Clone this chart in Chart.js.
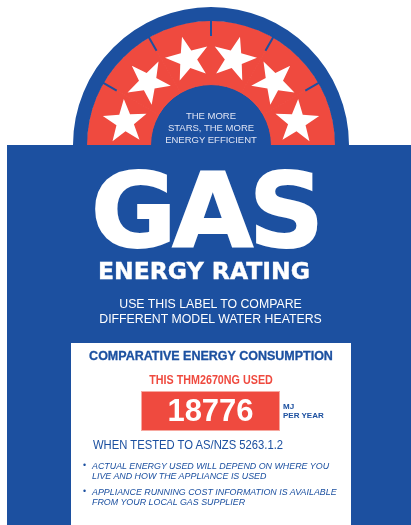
<!DOCTYPE html>
<html>
<head>
<meta charset="utf-8">
<script src="https://cdn.jsdelivr.net/npm/chart.js@4"></script>
<style>
  html, body { margin: 0; padding: 0; background: #fff; }
  #label { position: relative; width: 411px; height: 525px; overflow: hidden; font-family: "Liberation Sans", Arial, sans-serif; }
  #starChart { position: absolute; left: 73px; top: 7px; }
  .panel { position: absolute; left: 7px; top: 145px; width: 404px; height: 380px; background: #1c50a0; }
  .box { position: absolute; left: 71px; top: 343px; width: 280px; height: 182px; background: #fff; }
  .txt { position: absolute; white-space: nowrap; line-height: 1; }
  .heavy { font-family: "DejaVu Sans", sans-serif; font-weight: bold; color: #fff; }
  .blue { color: #1c50a0; }
</style>
</head>
<body>
<div id="label">
  <div class="panel"></div>
  <canvas id="starChart" width="276" height="138"></canvas>

  <div class="txt" style="left:211px; top:109.6px; line-height:12px; font-size:9.5px; color:#dfe4f4; text-align:center; transform:translateX(-50%);">THE MORE<br>STARS, THE MORE<br>ENERGY EFFICIENT</div>

  <div class="txt heavy" style="left:205.5px; top:170.3px; font-size:104px; line-height:0.8; letter-spacing:-4px; -webkit-text-stroke:2px #fff; transform:translateX(-50%);">GAS</div>
  <div class="txt heavy" style="left:204px; top:260.2px; font-size:23.5px; -webkit-text-stroke:0.4px #fff; transform:translateX(-50%);">ENERGY RATING</div>

  <div class="txt" style="left:210.5px; top:297.3px; font-size:12.3px; line-height:15px; color:#fff; text-align:center; transform:translateX(-50%);">USE THIS LABEL TO COMPARE<br>DIFFERENT MODEL WATER HEATERS</div>

  <div class="box"></div>
  <div class="txt blue" style="left:211px; top:350.4px; font-size:12.5px; font-weight:bold; -webkit-text-stroke:0.3px #1c50a0; transform:translateX(-50%);">COMPARATIVE ENERGY CONSUMPTION</div>
  <div class="txt" id="usedLine" style="left:210.5px; top:373.6px; font-size:12.5px; font-weight:bold; color:#ef4a3f; transform:translateX(-50%) scaleX(0.86);"></div>

  <div style="position:absolute; left:142px; top:392px; width:137px; height:38px; background:#ef4a3f; box-shadow:0 0 0 1px #f7a8a0;"></div>
  <div class="txt" id="energyValue" style="left:210.5px; top:395.2px; font-size:31px; font-weight:bold; color:#fff; transform:translateX(-50%);"></div>
  <div class="txt blue" style="left:283px; top:402.1px; font-size:8px; line-height:9px; font-weight:bold;">MJ<br>PER YEAR</div>

  <div class="txt blue" style="left:93px; top:439.4px; font-size:12.5px; transform-origin:0 0; transform:scaleX(0.9);">WHEN TESTED TO AS/NZS 5263.1.2</div>

  <div class="txt blue" style="left:83px; top:460.6px; font-size:8.9px;">&bull;</div>
  <div class="txt blue" style="left:92px; top:460.6px; font-size:8.9px; line-height:10.3px; font-style:italic;">ACTUAL ENERGY USED WILL DEPEND ON WHERE YOU<br>LIVE AND HOW THE APPLIANCE IS USED</div>
  <div class="txt blue" style="left:83px; top:487.2px; font-size:8.9px;">&bull;</div>
  <div class="txt blue" style="left:92px; top:487.2px; font-size:8.9px; line-height:10.3px; font-style:italic;">APPLIANCE RUNNING COST INFORMATION IS AVAILABLE<br>FROM YOUR LOCAL GAS SUPPLIER</div>
</div>

<script>
// Star rating segments of the half dial (one slice per star)
const starLabels = ['1 star', '2 stars', '3 stars', '4 stars', '5 stars', '6 stars'];
const starValues = [1, 1, 1, 1, 1, 1];
// Rings of the dial: outer blue rim, red star band, inner blue disc
const ringNames = ['rim', 'stars', 'centre'];
const ringWeights = [14, 63, 60];
// Label figures
const modelName = 'THM2670NG';
const energyUsed = [18776];

const BLUE = '#1c50a0';
const RED = '#ef4a3f';

// Draws the white stars and the small rim ticks on the red band
const starPlugin = {
  id: 'starPlugin',
  afterDatasetsDraw(chart) {
    const ctx = chart.ctx;
    const meta = chart.getDatasetMeta(1);
    meta.data.forEach(function (arc, i) {
      const p = arc.getProps(['x', 'y', 'startAngle', 'endAngle', 'innerRadius', 'outerRadius']);
      const mid = (p.startAngle + p.endAngle) / 2;
      const r = p.innerRadius + (p.outerRadius - p.innerRadius) * 0.45;

      // tick on each boundary between stars
      if (i > 0) {
        ctx.save();
        ctx.strokeStyle = BLUE;
        ctx.lineWidth = 2;
        ctx.beginPath();
        ctx.moveTo(p.x + Math.cos(p.startAngle) * (p.outerRadius + 1), p.y + Math.sin(p.startAngle) * (p.outerRadius + 1));
        ctx.lineTo(p.x + Math.cos(p.startAngle) * (p.outerRadius - 15), p.y + Math.sin(p.startAngle) * (p.outerRadius - 15));
        ctx.stroke();
        ctx.restore();
      }

      // five point star pointing away from the dial centre
      ctx.save();
      ctx.translate(p.x + Math.cos(mid) * r, p.y + Math.sin(mid) * r);
      ctx.rotate(mid + Math.PI / 2);
      ctx.fillStyle = '#fff';
      ctx.beginPath();
      for (let k = 0; k < 10; k++) {
        const rad = k % 2 === 0 ? 23 : 9.2;
        const a = -Math.PI / 2 + k * Math.PI / 5;
        if (k === 0) ctx.moveTo(Math.cos(a) * rad, Math.sin(a) * rad);
        else ctx.lineTo(Math.cos(a) * rad, Math.sin(a) * rad);
      }
      ctx.closePath();
      ctx.fill();
      ctx.restore();
    });
  }
};

document.addEventListener('DOMContentLoaded', function () {
  document.getElementById('usedLine').textContent = 'THIS ' + modelName + ' USED';
  document.getElementById('energyValue').textContent = String(energyUsed[0]);

  const canvas = document.getElementById('starChart');
  if (canvas) {
    new Chart(canvas.getContext('2d'), {
      type: 'doughnut',
      data: {
        labels: starLabels,
        datasets: [
          { label: ringNames[0], data: [1], backgroundColor: BLUE, borderWidth: 0, weight: ringWeights[0] },
          // same-colour border hides the seams between the red slices
          { label: ringNames[1], data: starValues, backgroundColor: RED, borderColor: RED, borderWidth: 1, weight: ringWeights[1] },
          { label: ringNames[2], data: [1], backgroundColor: BLUE, borderColor: BLUE, borderWidth: 1, weight: ringWeights[2] }
        ]
      },
      options: {
        responsive: false,
        animation: false,
        events: [],
        rotation: -90,      // start at the left
        circumference: 180, // half dial
        cutout: 0,
        layout: { padding: 0 },
        plugins: {
          legend: { display: false },
          tooltip: { enabled: false }
        }
      },
      plugins: [starPlugin]
    });
  } else {
    console.error('Canvas element not found for chart rendering');
  }
});
</script>
</body>
</html>
